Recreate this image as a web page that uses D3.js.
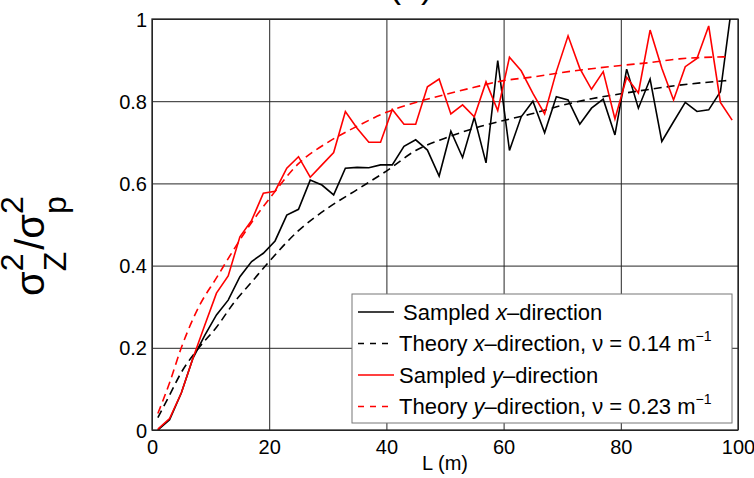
<!DOCTYPE html>
<html>
<head>
<meta charset="utf-8">
<script src="https://cdn.jsdelivr.net/npm/d3@7"></script>
<style>
  body { margin: 0; background: #fff; }
  text { font-family: "Liberation Sans", Arial, Helvetica, sans-serif; fill: #000; }
</style>
</head>
<body>
<div id="chart"></div>
<script>
// sampled points, every 2 m
var sampledL = [1, 3, 5, 7, 9, 11, 13, 15, 17, 19, 21, 23, 25, 27, 29, 31, 33, 35, 37, 39,
  41, 43, 45, 47, 49, 51, 53, 55, 57, 59, 61, 63, 65, 67, 69, 71, 73, 75, 77, 79,
  81, 83, 85, 87, 89, 91, 93, 95, 97, 99];
var sampledX = [0.0, 0.025, 0.09, 0.175, 0.23, 0.28, 0.316, 0.373, 0.41, 0.43,
  0.46, 0.523, 0.537, 0.608, 0.596, 0.572, 0.637, 0.639, 0.638, 0.645,
  0.645, 0.69, 0.706, 0.681, 0.618, 0.727, 0.663, 0.761, 0.65, 0.899,
  0.68, 0.762, 0.8, 0.723, 0.811, 0.803, 0.744, 0.783, 0.805, 0.718,
  0.878, 0.783, 0.854, 0.702, 0.75, 0.797, 0.775, 0.779, 0.823, 1.04];
var sampledY = [0.002, 0.028, 0.09, 0.175, 0.255, 0.333, 0.375, 0.47, 0.51, 0.576,
  0.581, 0.637, 0.665, 0.615, 0.645, 0.675, 0.775, 0.734, 0.70, 0.70,
  0.78, 0.744, 0.744, 0.835, 0.854, 0.769, 0.791, 0.762, 0.847, 0.777,
  0.907, 0.874, 0.819, 0.769, 0.872, 0.959, 0.88, 0.829, 0.872, 0.757,
  0.858, 0.82, 0.973, 0.88, 0.803, 0.884, 0.904, 0.983, 0.797, 0.754];

// theory curves
var theoryL = [1, 3, 5, 8, 11, 14, 17, 20, 25, 30, 35, 40, 45, 50, 55, 60, 65, 70, 75, 80, 85, 90, 98];
var theoryX = [0.03, 0.085, 0.14, 0.20, 0.25, 0.31, 0.36, 0.41, 0.485, 0.54, 0.585, 0.63,
  0.68, 0.71, 0.734, 0.753, 0.77, 0.79, 0.806, 0.818, 0.829, 0.839, 0.85];
var theoryY = [0.04, 0.115, 0.20, 0.30, 0.37, 0.44, 0.505, 0.562, 0.648, 0.70, 0.739, 0.773,
  0.797, 0.816, 0.834, 0.85, 0.859, 0.87, 0.879, 0.887, 0.894, 0.903, 0.908];

var xTicks = [0, 20, 40, 60, 80, 100];
var yTicks = [0, 0.2, 0.4, 0.6, 0.8, 1];
var legendLabels = [
  ["Sampled ", "x", "\u2013direction", ""],
  ["Theory ", "x", "\u2013direction, \u03bd = 0.14 m", "\u22121"],
  ["Sampled ", "y", "\u2013direction", ""],
  ["Theory ", "y", "\u2013direction, \u03bd = 0.23 m", "\u22121"]
];

var W = 754, H = 478;
var plotL = 152, plotR = 738, plotT = 19, plotB = 430;

var svg = d3.select("#chart").append("svg")
  .attr("width", W)
  .attr("height", H);

var x = d3.scaleLinear().domain([0, 100]).range([plotL, plotR]);
var y = d3.scaleLinear().domain([0, 1]).range([plotB, plotT]);

svg.append("defs").append("clipPath").attr("id", "clip")
  .append("rect")
  .attr("x", plotL).attr("y", plotT)
  .attr("width", plotR - plotL).attr("height", plotB - plotT);

// grid + ticks
var gx = svg.append("g")
  .attr("transform", "translate(0," + plotB + ")")
  .call(d3.axisBottom(x).tickValues(xTicks).tickSize(-(plotB - plotT)).tickFormat(d3.format("d")));
var gy = svg.append("g")
  .attr("transform", "translate(" + plotL + ",0)")
  .call(d3.axisLeft(y).tickValues(yTicks).tickSize(-(plotR - plotL))
    .tickFormat(function(d) { return d === 0 || d === 1 ? d : d3.format(".1f")(d); }));

gx.select(".domain").remove();
gy.select(".domain").remove();
svg.selectAll(".tick line").attr("stroke", "#262626").attr("stroke-width", 1);
gx.selectAll(".tick text").attr("font-size", 20).attr("y", 10).attr("dy", "0.71em")
  .attr("font-family", "Liberation Sans, Arial, sans-serif");
gy.selectAll(".tick text").attr("font-size", 20).attr("x", -5).attr("dy", "0.35em")
  .attr("font-family", "Liberation Sans, Arial, sans-serif");

// box
svg.append("rect")
  .attr("x", plotL).attr("y", plotT)
  .attr("width", plotR - plotL).attr("height", plotB - plotT)
  .attr("fill", "none").attr("stroke", "#262626").attr("stroke-width", 1.3);

var plot = svg.append("g").attr("clip-path", "url(#clip)");

var straight = d3.line()
  .x(function(d) { return x(d[0]); })
  .y(function(d) { return y(d[1]); });
var smooth = d3.line()
  .x(function(d) { return x(d[0]); })
  .y(function(d) { return y(d[1]); })
  .curve(d3.curveMonotoneX);

var series = [
  { L: sampledL, v: sampledX, color: "#000", dash: null, gen: straight },
  { L: theoryL, v: theoryX, color: "#000", dash: "8,5", gen: smooth },
  { L: sampledL, v: sampledY, color: "#ff0000", dash: null, gen: straight },
  { L: theoryL, v: theoryY, color: "#ff0000", dash: "8,5", gen: smooth }
];

series.forEach(function(s) {
  plot.append("path")
    .datum(d3.zip(s.L, s.v))
    .attr("d", s.gen)
    .attr("fill", "none")
    .attr("stroke", s.color)
    .attr("stroke-width", 1.6)
    .attr("stroke-dasharray", s.dash);
});

// legend
var lg = svg.append("g");
lg.append("rect")
  .attr("x", 352).attr("y", 294)
  .attr("width", 380).attr("height", 129)
  .attr("fill", "#fff").attr("stroke", "#777").attr("stroke-width", 1);

series.forEach(function(s, i) {
  var cy = 312 + i * 31.5;
  lg.append("line")
    .attr("x1", 358).attr("x2", 394)
    .attr("y1", cy).attr("y2", cy)
    .attr("stroke", s.color).attr("stroke-width", 1.6)
    .attr("stroke-dasharray", s.dash ? "6,6" : null);
  var t = lg.append("text")
    .attr("x", i === 0 ? 403 : 399).attr("y", cy).attr("dy", "0.36em")
    .attr("font-size", 22);
  var lab = legendLabels[i];
  t.append("tspan").text(lab[0]);
  t.append("tspan").attr("font-style", "italic").text(lab[1]);
  t.append("tspan").text(lab[2]);
  if (lab[3]) {
    t.append("tspan").attr("font-size", 14).attr("dy", -10).text(lab[3]);
  }
});

// x label
svg.append("text")
  .attr("x", (plotL + plotR) / 2).attr("y", 470)
  .attr("text-anchor", "middle")
  .attr("font-size", 20)
  .text("L (m)");

// title, mostly cut off above the frame
svg.append("text")
  .attr("x", 411).attr("y", -3)
  .attr("text-anchor", "middle")
  .attr("font-size", 36)
  .text("(a)");

// y label built piece by piece: sigma_Z^2 / sigma_p^2
var yl = svg.append("g").attr("transform", "rotate(-90)");
var pieces = [
  { t: "\u03c3", size: 40, shift: 0 },
  { t: "Z", size: 32, shift: 22, stack: true },
  { t: "2", size: 32, shift: -21 },
  { t: "/", size: 40, shift: 0 },
  { t: "\u03c3", size: 40, shift: 0 },
  { t: "p", size: 32, shift: 22, stack: true },
  { t: "2", size: 32, shift: -21 }
];
var pos = -296, stackStart = null, stackW = 0;
pieces.forEach(function(p) {
  var startAt = stackStart !== null ? stackStart : pos;
  var el = yl.append("text")
    .attr("x", startAt).attr("y", 44 + p.shift)
    .attr("font-size", p.size)
    .text(p.t);
  var w = el.node().getComputedTextLength();
  if (p.stack) {
    stackStart = pos; stackW = w; pos += w;
  } else if (stackStart !== null) {
    pos = stackStart + Math.max(w, stackW) + 2;
    stackStart = null;
  } else {
    pos += w;
  }
});
</script>
</body>
</html>
